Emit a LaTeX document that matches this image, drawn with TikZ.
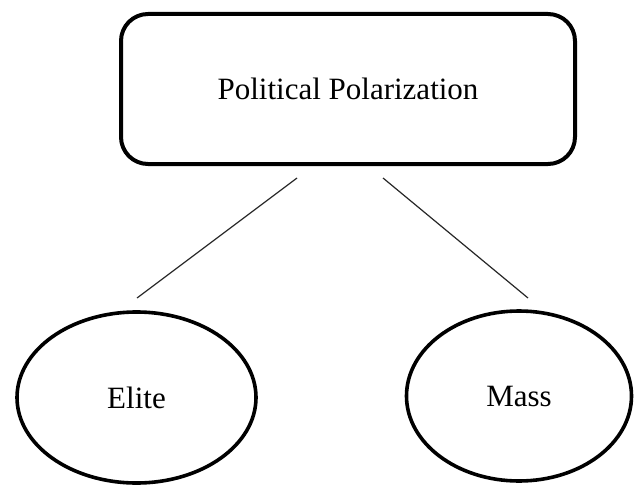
\documentclass[tikz,border=0pt]{standalone}
\usepackage{fontspec}
\setmainfont{Liberation Serif}
\usetikzlibrary{shapes.geometric}
\begin{document}
\begin{tikzpicture}[x=1pt,y=-1pt,
  box/.style={draw=black,line width=4pt,rounded corners=27pt,minimum width=454pt,minimum height=150pt,inner sep=0pt,font=\fontsize{31}{36}\selectfont},
  oval/.style={draw=black,line width=3.6pt,ellipse,inner sep=0pt,font=\fontsize{31}{36}\selectfont},
  link/.style={draw=black!85,line width=1.2pt}]
\path[use as bounding box] (0,0) rectangle (637,487);
\node[box] (pp) at (348,89) {Political Polarization};
\node[oval,minimum width=239pt,minimum height=171pt] (elite) at (136.5,397.5) {Elite};
\node[oval,minimum width=225pt,minimum height=170pt] (mass) at (519,396) {Mass};
\coordinate (a1) at (297,178);
\coordinate (a2) at (137,298);
\coordinate (b1) at (383,178);
\coordinate (b2) at (528,298);
\draw[link] (a1) -- (a2);
\draw[link] (b1) -- (b2);
\end{tikzpicture}
\end{document}
